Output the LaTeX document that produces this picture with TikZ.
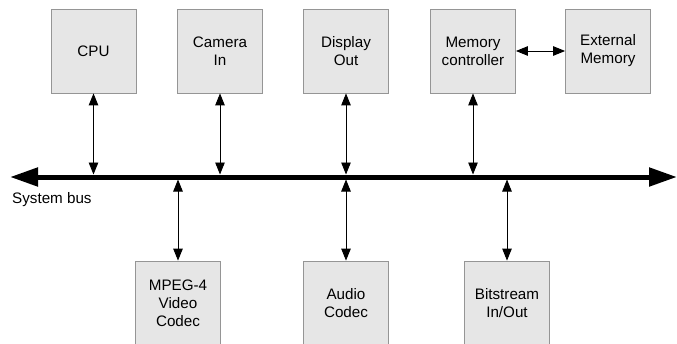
\documentclass[tikz,border=0pt]{standalone}
\usepackage{fontspec}
\setmainfont{Liberation Sans}
\usetikzlibrary{arrows.meta}
\definecolor{boxfill}{HTML}{E6E6E6}
\definecolor{boxline}{HTML}{959595}
\tikzset{
  unit/.style={draw=boxline, fill=boxfill, line width=0.8pt, minimum width=85pt,
    minimum height=84pt, inner sep=0pt, align=center,
    font=\fontsize{15.2}{18}\selectfont},
  conn/.style={line width=0.9pt, {Triangle[length=12pt,width=9.5pt]}-{Triangle[length=12pt,width=9.5pt]}},
  busline/.style={line width=5pt, {Triangle[length=28pt,width=18pt]}-{Triangle[length=28pt,width=18pt]}},
}
\begin{document}
\begin{tikzpicture}[x=1pt, y=-1pt]
\clip (0,0) rectangle (677,343);
% devices above the bus
\node[unit] (cpu)  at (93.5,51) {CPU};
\node[unit] (cam)  at (220,51)  {Camera\\In};
\node[unit] (disp) at (346,51)  {Display\\Out};
\node[unit] (memc) at (473,51)  {Memory\\controller};
\node[unit] (extm) at (608,51)  {External\\Memory};
% devices below the bus
\node[unit] (mpeg) at (178,303) {MPEG-4\\Video\\Codec};
\node[unit] (aud)  at (346,303) {Audio\\Codec};
\node[unit] (bits) at (507,303) {Bitstream\\In/Out};
% system bus
\coordinate (busL) at (10,177);
\coordinate (busR) at (677,177);
\draw[busline] (busL) -- (busR);
\node[anchor=west, inner sep=0pt, font=\fontsize{15.2}{18}\selectfont] (buslbl) at (12,200) {System bus};
% bus attachment points
\coordinate (tcpu)  at (cpu.south  |- 0,174.5);
\coordinate (tcam)  at (cam.south  |- 0,174.5);
\coordinate (tdisp) at (disp.south |- 0,174.5);
\coordinate (tmemc) at (memc.south |- 0,174.5);
\coordinate (bmpeg) at (mpeg.north |- 0,179.5);
\coordinate (baud)  at (aud.north  |- 0,179.5);
\coordinate (bbits) at (bits.north |- 0,179.5);
% connectors
\draw[conn] (cpu.south)  -- (tcpu);
\draw[conn] (cam.south)  -- (tcam);
\draw[conn] (disp.south) -- (tdisp);
\draw[conn] (memc.south) -- (tmemc);
\draw[conn] (mpeg.north) -- (bmpeg);
\draw[conn] (aud.north)  -- (baud);
\draw[conn] (bits.north) -- (bbits);
\draw[conn] (memc.east)  -- (extm.west);
\end{tikzpicture}
\end{document}
